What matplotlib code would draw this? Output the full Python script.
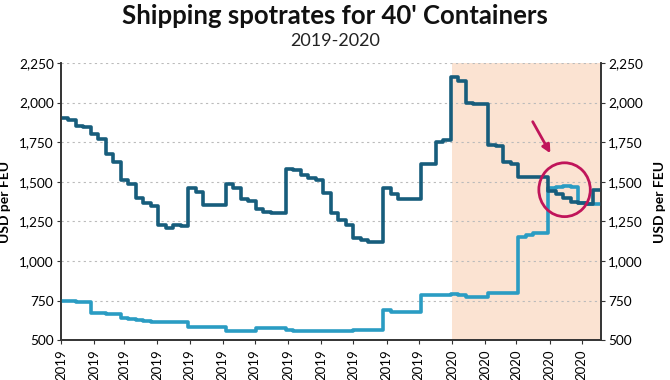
import matplotlib
matplotlib.use("Agg")
import matplotlib.pyplot as plt
import matplotlib.dates as mdates
from matplotlib.patches import Ellipse
import numpy as np
import pandas as pd

plt.rcParams['font.family'] = ['Lato', 'DejaVu Sans']

# weekly spot rates, USD per FEU
weeks = pd.date_range("2019-01-01", periods=73, freq="7D")
route_a = [1900, 1890, 1850, 1845, 1800, 1770, 1673, 1625, 1514, 1483,
           1400, 1369, 1350, 1225, 1210, 1225, 1218, 1464, 1438, 1356,
           1356, 1356, 1483, 1464, 1394, 1380, 1331, 1312, 1305, 1305,
           1578, 1575, 1546, 1527, 1510, 1432, 1300, 1261, 1229, 1147,
           1134, 1121, 1121, 1464, 1420, 1394, 1394, 1394, 1610, 1610,
           1750, 1762, 2161, 2136, 2000, 1990, 1990, 1730, 1724, 1628,
           1610, 1533, 1533, 1533, 1533, 1440, 1420, 1400, 1375, 1369,
           1360, 1450, 1450]
route_b = [750, 745, 740, 738, 671, 670, 668, 668, 640, 636,
           625, 620, 615, 614, 614, 614, 614, 585, 582, 582,
           580, 580, 560, 558, 558, 556, 576, 576, 576, 576,
           562, 560, 558, 558, 558, 558, 558, 558, 558, 563,
           563, 563, 563, 690, 678, 677, 677, 677, 785, 785,
           785, 785, 790, 785, 773, 773, 773, 798, 798, 798,
           798, 1153, 1166, 1178, 1178, 1464, 1470, 1475, 1470, 1369,
           1360, 1360, 1360]
y_ticks = [500, 750, 1000, 1250, 1500, 1750, 2000, 2250]

dark = "#175d7c"
light = "#2a9cc3"
axis_col = "#333333"
mark = "#c0155a"

fig = plt.figure(figsize=(6.7, 3.8), dpi=100)
ax = fig.add_axes([0.091, 0.105, 0.806, 0.729])

ax.axvspan(pd.Timestamp("2020-01-01"), weeks[-1], color="#fbe3d2", zorder=0, lw=0)
ax.plot(weeks, route_b, drawstyle="steps-post", color=light, lw=2.6, zorder=3)
ax.plot(weeks, route_a, drawstyle="steps-post", color=dark, lw=2.6, zorder=3)

fmt = matplotlib.ticker.FuncFormatter(lambda v, p: f"{int(v):,}")

ax.set_xlim(weeks[0], weeks[-1])
ax.set_ylim(500, 2250)
ax.set_yticks(y_ticks)
ax.yaxis.set_major_formatter(fmt)
ax.grid(axis="y", color="#bbbbbb", ls=(0, (2, 3)), lw=0.8)
ax.set_axisbelow(True)

ax.xaxis.set_major_locator(mdates.MonthLocator())
ax.xaxis.set_major_formatter(mdates.DateFormatter("%Y"))
ax.tick_params(axis="x", rotation=90, labelsize=9.5, length=3, color=axis_col)
ax.tick_params(axis="y", labelsize=9.8, length=3, pad=2, color=axis_col)

ax2 = ax.twinx()
ax2.set_ylim(500, 2250)
ax2.set_yticks(y_ticks)
ax2.yaxis.set_major_formatter(fmt)
ax2.tick_params(axis="y", labelsize=9.8, length=3, pad=2, color=axis_col)

for a in (ax, ax2):
    for s in ["left", "right", "bottom"]:
        a.spines[s].set_color(axis_col)
        a.spines[s].set_linewidth(1.2)
    a.spines["top"].set_visible(False)

ax.set_ylabel("USD per FEU", fontsize=10, fontweight="bold")
ax2.set_ylabel("USD per FEU", fontsize=10, fontweight="bold")
ax.yaxis.set_label_coords(-0.092, 0.5)
ax2.yaxis.set_label_coords(1.098, 0.5)

# highlight of the crossing
d0 = mdates.date2num(pd.Timestamp("2020-03-22"))
d1 = mdates.date2num(pd.Timestamp("2020-05-09"))
circ = Ellipse(((d0 + d1) / 2, 1450), width=d1 - d0, height=340,
               fill=False, ec=mark, lw=2, zorder=5)
ax.add_patch(circ)
ax.annotate("", xy=(pd.Timestamp("2020-04-03"), 1665), xytext=(pd.Timestamp("2020-03-15"), 1895),
            arrowprops=dict(arrowstyle="-|>", color=mark, lw=2, mutation_scale=12), zorder=5)

fig.text(0.5, 0.958, "Shipping spotrates for 40' Containers", ha="center", va="center",
         fontsize=18.5, fontweight="bold", color="#111111")
fig.text(0.5, 0.893, "2019-2020", ha="center", va="center", fontsize=13, color="#222222")

fig.savefig("out.png", dpi=100)
